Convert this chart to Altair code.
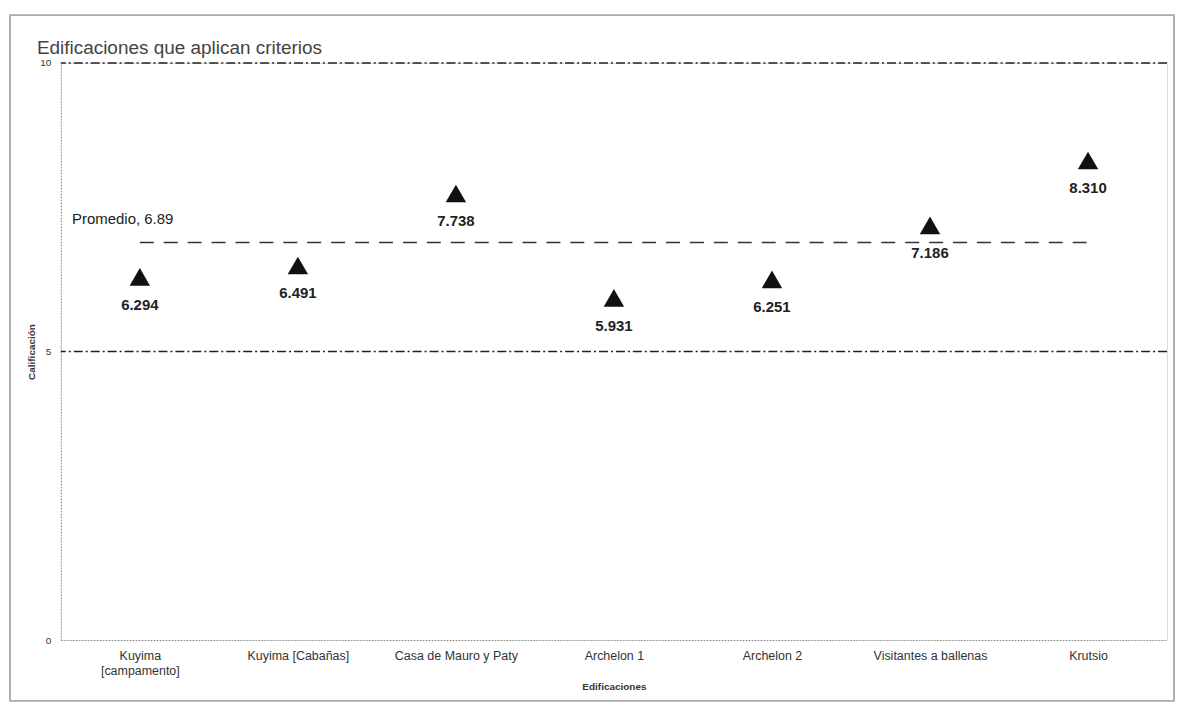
import altair as alt
import pandas as pd

edificios = ["Kuyima [campamento]", "Kuyima [Cabañas]", "Casa de Mauro y Paty",
             "Archelon  1", "Archelon  2", "Visitantes a ballenas", "Krutsio"]
calificacion = [6.294, 6.491, 7.738, 5.931, 6.251, 7.186, 8.310]
promedio = 6.89
referencias = [5, 10]
titulo = "Edificaciones que aplican criterios"

FONT = "Liberation Sans"

df = pd.DataFrame({"edificio": edificios, "calificacion": calificacion})
df_avg = pd.DataFrame({"edificio": [edificios[0], edificios[-1]], "prom": [promedio, promedio]})
df_lbl = pd.DataFrame({"edificio": [edificios[0]], "prom": [promedio], "txt": ["Promedio, 6.89"]})
df_ref = pd.DataFrame({"ref": referencias})
df_tit = pd.DataFrame({"t": [titulo]})

xenc = alt.X(
    "edificio:N", sort=edificios,
    scale=alt.Scale(type="point", padding=0.5),
    axis=alt.Axis(
        title="Edificaciones", labelAngle=0, labelFontSize=12.5, labelColor="#333",
        labelFont=FONT, labelLimit=300, labelPadding=10, ticks=False,
        domainColor="#777", domainDash=[1, 2], domainWidth=1,
        labelExpr="datum.value == 'Kuyima [campamento]' ? ['Kuyima', '[campamento]'] : datum.label",
        titleFont=FONT, titleFontSize=10, titleFontWeight="bold", titleColor="#333",
        titlePadding=5,
    ),
)
yscale = alt.Scale(domain=[0, 10], nice=False)

frame = alt.Chart(df_ref).mark_rect(fill=None, stroke="#aaa", strokeWidth=1.5).encode(
    x=alt.value(-51), x2=alt.value(1117), y=alt.value(-48), y2=alt.value(640)
)

title = alt.Chart(df_tit).mark_text(
    align="left", baseline="middle", fontSize=19, font=FONT, color="#444"
).encode(x=alt.value(-24), y=alt.value(-15), text="t:N")

refs = alt.Chart(df_ref).mark_rule(color="#222", strokeDash=[9, 3, 2, 3], strokeWidth=1.3).encode(
    y=alt.Y("ref:Q", scale=yscale, axis=alt.Axis(
        title="Calificación", values=[0, 5, 10], format="d", grid=False, ticks=False,
        labelFontSize=10, labelColor="#333", labelFont=FONT, labelPadding=10,
        domainColor="#777", domainDash=[1, 2],
        titleFont=FONT, titleFontSize=10, titleFontWeight="bold", titleColor="#333",
        titleX=-24,
    ))
)

avg_line = alt.Chart(df_avg).mark_line(color="#333", strokeDash=[14, 10], strokeWidth=1.5).encode(
    x=xenc, y=alt.Y("prom:Q", scale=yscale)
)

avg_text = alt.Chart(df_lbl).mark_text(
    align="left", baseline="middle", dx=-68, dy=-24, fontSize=15, font=FONT, color="#222"
).encode(x=xenc, y=alt.Y("prom:Q", scale=yscale), text="txt:N")

points = alt.Chart(df).mark_point(shape="triangle-up", filled=True, size=420, color="#111", opacity=1).encode(
    x=xenc, y=alt.Y("calificacion:Q", scale=yscale)
)

labels = alt.Chart(df).mark_text(
    baseline="middle", dy=28, fontSize=15, fontWeight="bold", font=FONT, color="#222"
).encode(
    x=xenc, y=alt.Y("calificacion:Q", scale=yscale),
    text=alt.Text("calificacion:Q", format=".3f"),
)

chart = alt.layer(frame, title, refs, avg_line, avg_text, points, labels).properties(
    width=1110, height=579,
    autosize=alt.AutoSizeParams(type="none"),
    padding={"left": 53, "top": 54, "right": 12, "bottom": 62},
).configure_view(stroke=None).configure(background="white")

chart.save("out.html", embed_options={"renderer": "svg", "actions": False})
